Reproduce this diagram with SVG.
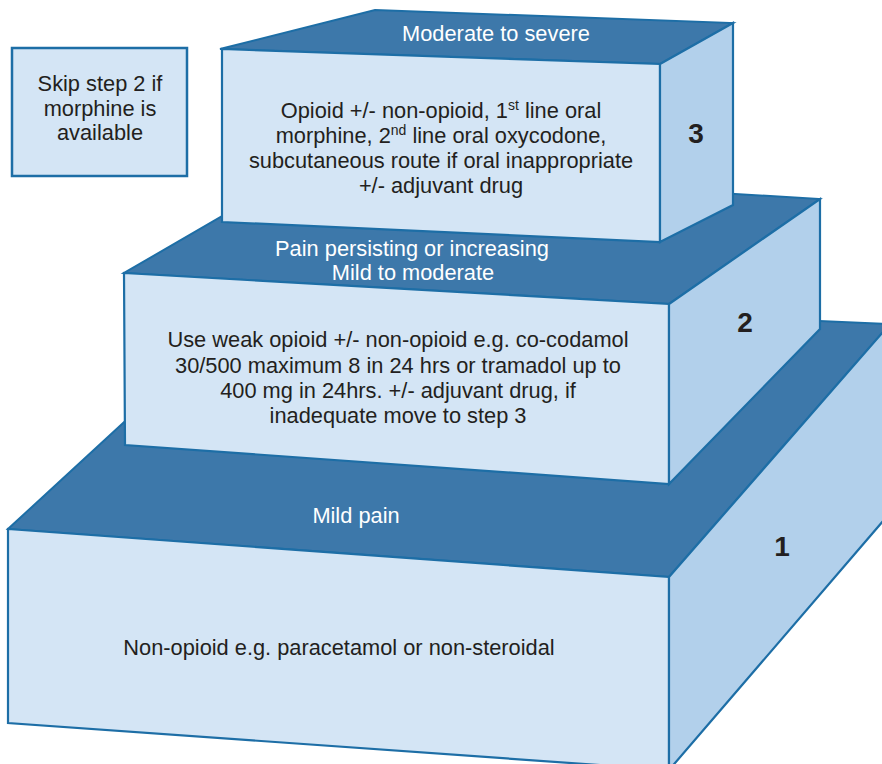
<svg xmlns="http://www.w3.org/2000/svg" width="882" height="764" viewBox="0 0 882 764">
  <style>
    .top { fill: #3d78aa; stroke: #1d6ea6; stroke-width: 2; stroke-linejoin: miter; }
    .front { fill: #d4e5f5; stroke: #1d6ea6; stroke-width: 2.2; }
    .side { fill: #b2d0eb; stroke: #1d6ea6; stroke-width: 2.2; }
    text { font-family: "Liberation Sans", Arial, Helvetica, sans-serif; font-size: 21.8px; fill: #231f20; text-anchor: middle; }
    .lbl { fill: #ffffff; }
    .num { font-size: 28px; font-weight: bold; }
    .sup { font-size: 14px; }
  </style>

  <rect width="882" height="764" fill="#ffffff"/>

  <!-- Step 1: bottom block -->
  <g id="step1">
    <polygon class="top" points="8,529 669,577 890,324 260,297"/>
    <polygon class="front" points="8,529 669,577 669,770 8,723"/>
    <polygon class="side" points="669,577 890,324 890,513 669,770"/>
    <text class="lbl" x="356" y="523">Mild pain</text>
    <text x="339" y="655">Non-opioid e.g. paracetamol or non-steroidal</text>
    <text class="num" x="782" y="556">1</text>
  </g>

  <!-- Step 2: middle block -->
  <g id="step2">
    <polygon class="top" points="124,273 669,304 820,199 305,168"/>
    <polygon class="front" points="124,273 669,304 669,484 125,445"/>
    <polygon class="side" points="669,304 820,199 820,329 669,484"/>
    <text class="lbl" x="412" y="256">Pain persisting or increasing</text>
    <text class="lbl" x="413" y="280">Mild to moderate</text>
    <text x="398" y="347">Use weak opioid +/- non-opioid e.g. co-codamol</text>
    <text x="398" y="373">30/500 maximum 8 in 24 hrs or tramadol up to</text>
    <text x="398" y="398">400 mg in 24hrs. +/- adjuvant drug, if</text>
    <text x="398" y="423">inadequate move to step 3</text>
    <text class="num" x="745" y="332">2</text>
  </g>

  <!-- Step 3: top block -->
  <g id="step3">
    <polygon class="top" points="220,49 660,64 733,23 375,10"/>
    <polygon class="front" points="222,49 660,64 660,242 222,222"/>
    <polygon class="side" points="660,64 733,23 733,205 660,242"/>
    <text class="lbl" x="496" y="41">Moderate to severe</text>
    <text x="441" y="118">Opioid +/- non-opioid, 1<tspan class="sup" dy="-8">st</tspan><tspan dy="8"> line oral</tspan></text>
    <text x="441" y="143">morphine, 2<tspan class="sup" dy="-8">nd</tspan><tspan dy="8"> line oral oxycodone,</tspan></text>
    <text x="441" y="168">subcutaneous route if oral inappropriate</text>
    <text x="441" y="193">+/- adjuvant drug</text>
    <text class="num" x="696" y="143">3</text>
  </g>

  <!-- Side note -->
  <g id="note">
    <rect x="12" y="48" width="175" height="128" fill="#d4e5f5" stroke="#1d6ea6" stroke-width="2.5"/>
    <text x="100" y="91">Skip step 2 if</text>
    <text x="100" y="116">morphine is</text>
    <text x="100" y="140">available</text>
  </g>
</svg>
